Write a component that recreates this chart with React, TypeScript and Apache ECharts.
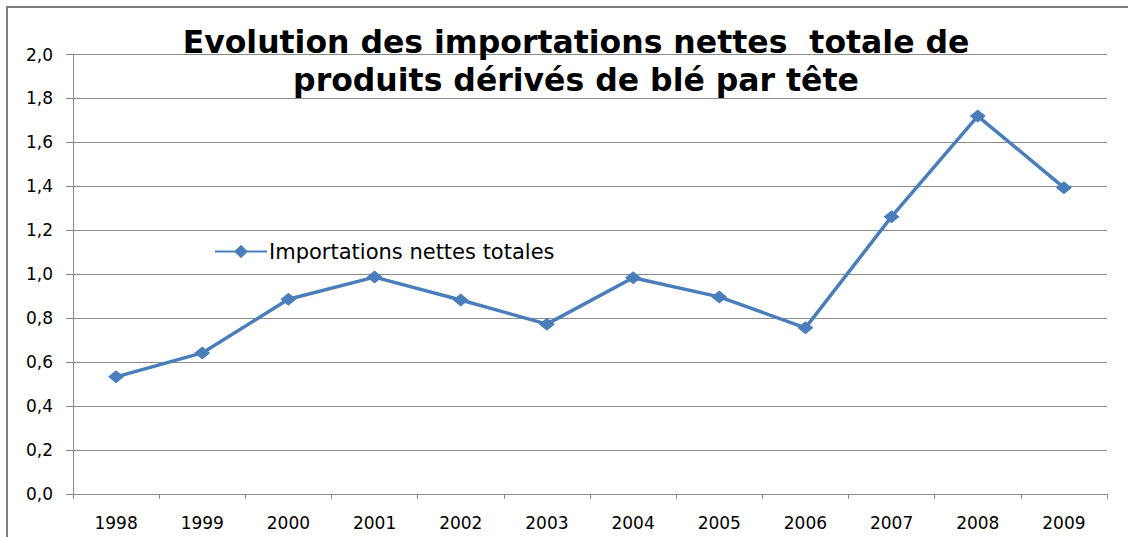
import React, { useEffect, useRef } from "react";
import * as echarts from "echarts";

const years = ["1998", "1999", "2000", "2001", "2002", "2003", "2004", "2005", "2006", "2007", "2008", "2009"];
const importations = [0.533, 0.642, 0.886, 0.987, 0.883, 0.773, 0.984, 0.897, 0.756, 1.262, 1.72, 1.394];
const seriesName = "Importations nettes totales";
const titleText = "Evolution des importations nettes  totale de\nproduits dérivés de blé par tête";

export default function App() {
  const ref = useRef<HTMLDivElement>(null);
  useEffect(() => {
    if (!ref.current) return;
    const chart = echarts.init(ref.current, null, { renderer: "svg" });
    const gray = "#8a8a8a";
    chart.setOption({
      animation: false,
      backgroundColor: "#ffffff",
      title: {
        text: titleText,
        left: 571,
        top: 18,
        textAlign: "center",
        textStyle: {
          fontFamily: "DejaVu Sans",
          fontWeight: "bold",
          fontSize: 31.5,
          lineHeight: 38,
          color: "#000000",
        },
      },
      legend: {
        left: 209,
        top: 236,
        itemWidth: 52,
        itemHeight: 17,
        itemGap: 4,
        textStyle: { fontFamily: "DejaVu Sans", fontSize: 21, color: "#000000", padding: [0, 0, 0, -3] },
        data: [seriesName],
      },
      grid: { left: 73, right: 21, top: 54.5, bottom: 43 },
      xAxis: {
        type: "category",
        data: years,
        boundaryGap: true,
        axisLine: { lineStyle: { color: gray, width: 1 } },
        axisTick: { show: true, length: 5, lineStyle: { color: gray } },
        axisLabel: { fontFamily: "DejaVu Sans", fontSize: 17, color: "#000000", margin: 20 },
      },
      yAxis: {
        type: "value",
        min: 0,
        max: 2,
        interval: 0.2,
        axisLine: { show: true, lineStyle: { color: gray, width: 1 } },
        axisTick: { show: true, length: 7, lineStyle: { color: gray } },
        splitLine: { show: true, lineStyle: { color: gray, width: 1 } },
        axisLabel: {
          fontFamily: "DejaVu Sans",
          fontSize: 17,
          color: "#000000",
          margin: 20,
          formatter: (v: number) => v.toFixed(1).replace(".", ","),
        },
      },
      graphic: [
        {
          type: "rect",
          shape: { x: 7, y: 7, width: 1140, height: 560 },
          style: { fill: "none", stroke: "#7f7f7f", lineWidth: 2 },
          z: 100,
        },
      ],
      series: [
        {
          name: seriesName,
          type: "line",
          data: importations,
          symbol: "diamond",
          symbolSize: [16, 13],
          itemStyle: { color: "#4a7ebb" },
          lineStyle: { color: "#4a7ebb", width: 3.5 },
        },
      ],
    });
    return () => chart.dispose();
  }, []);
  return <div ref={ref} style={{ width: 1128, height: 537, position: "absolute", left: 0, top: 0 }} />;
}
